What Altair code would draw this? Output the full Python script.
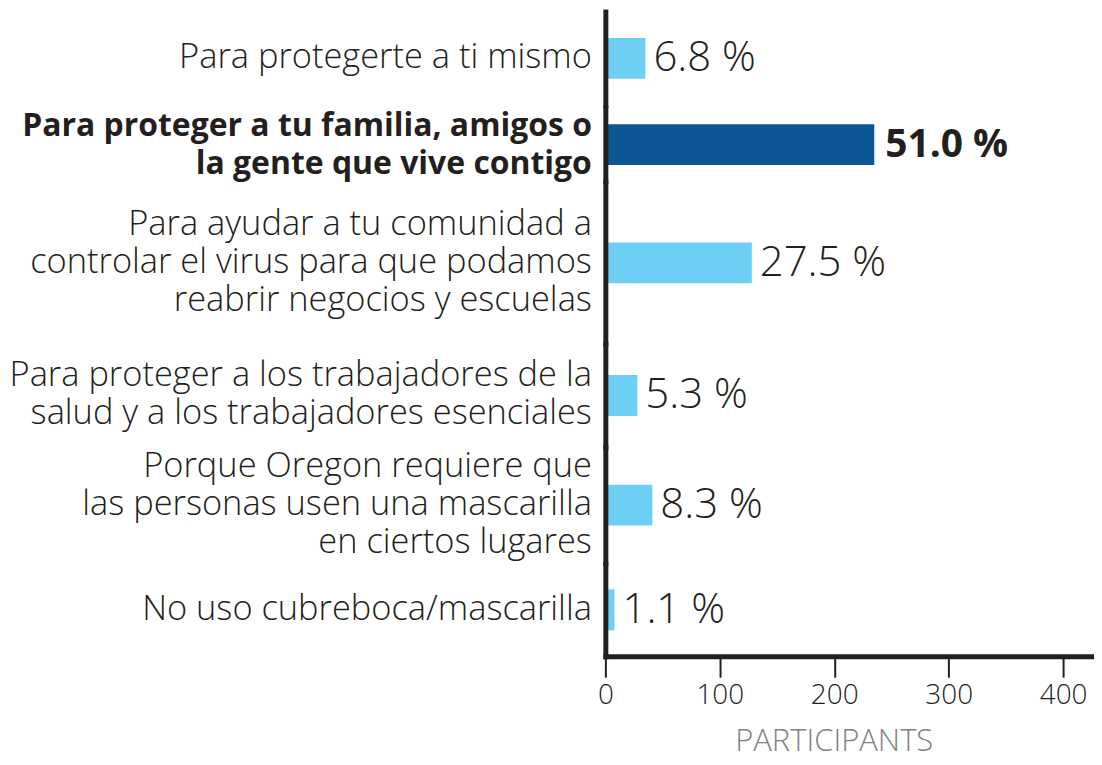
import altair as alt
import pandas as pd

# ---- data ----
categories = [
    "Para protegerte a ti mismo",
    "Para proteger a tu familia, amigos o\nla gente que vive contigo",
    "Para ayudar a tu comunidad a\ncontrolar el virus para que podamos\nreabrir negocios y escuelas",
    "Para proteger a los trabajadores de la\nsalud y a los trabajadores esenciales",
    "Porque Oregon requiere que\nlas personas usen una mascarilla\nen ciertos lugares",
    "No uso cubreboca/mascarilla",
]
participants = [35, 235, 128, 28, 41, 8]
pct_labels = ["6.8 %", "51.0 %", "27.5 %", "5.3 %", "8.3 %", "1.1 %"]
highlight = [False, True, False, False, False, False]
x_ticks = [0, 100, 200, 300, 400]

# ---- styling / layout ----
FONT = "Open Sans"
DARK = "#231f20"
LIGHT_BAR = "#6ccff3"
DARK_BAR = "#0b5694"
GRAY = "#808285"
row_heights = [99, 74, 163, 103, 117, 93]
PLOT_W = 490
X_MAX = 427
LINE_H = 38

df = pd.DataFrame({
    "idx": list(range(len(categories))),
    "cat": categories,
    "participants": participants,
    "pct": pct_labels,
})

rows = []
n = len(categories)
for i in range(n):
    last = i == n - 1
    weight = "bold" if highlight[i] else 300
    n_lines = categories[i].count("\n") + 1
    if last:
        x_axis = alt.Axis(
            values=x_ticks, title="PARTICIPANTS", grid=False,
            domain=True, domainWidth=5, domainColor=DARK, domainCap="square",
            ticks=True, tickSize=21, tickWidth=2, tickColor=DARK,
            labelFont=FONT, labelFontSize=28, labelColor=DARK, labelPadding=4,
            labelFontWeight=300, labelFlush=False,
            titleFont=FONT, titleFontSize=31, titleColor=GRAY, titleFontWeight=300,
            titlePadding=18, titleX=229, titleAlign="center",
        )
    else:
        x_axis = None
    x = alt.X("participants:Q", scale=alt.Scale(domain=[0, X_MAX], nice=False), axis=x_axis)
    y = alt.Y(
        "cat:N", title=None,
        scale=alt.Scale(paddingInner=0, paddingOuter=0),
        axis=alt.Axis(
            labelExpr="split(datum.label, '\\n')",
            domain=True, domainWidth=5, domainColor=DARK,
            domainCap="butt" if i == 0 else "square",
            ticks=False, grid=False,
            labelFont=FONT, labelFontSize=32 if highlight[i] else 34.5, labelColor=DARK,
            labelFontWeight=weight, labelLineHeight=LINE_H, labelLimit=0,
            labelOffset=-(n_lines - 1) * LINE_H / 2,
            labelPadding=14, minExtent=593, maxExtent=593, zindex=1,
        ),
    )
    base = alt.Chart(df).transform_filter(alt.datum.idx == i)
    bars = base.mark_bar(size=41, color=DARK_BAR if highlight[i] else LIGHT_BAR).encode(x=x, y=y)
    text = base.mark_text(
        align="left", baseline="middle", dx=11 if highlight[i] else 8, font=FONT,
        fontSize=39 if highlight[i] else 42,
        fontWeight=weight, color=DARK,
    ).encode(x=x, y=y, text="pct:N")
    rows.append((bars + text).properties(width=PLOT_W, height=row_heights[i]))

chart = alt.vconcat(*rows, spacing=0, bounds="flush").resolve_scale(y="independent").properties(
    padding=0
).configure_view(strokeWidth=0)

chart.save("out.html", embed_options={"renderer": "svg", "actions": False})
